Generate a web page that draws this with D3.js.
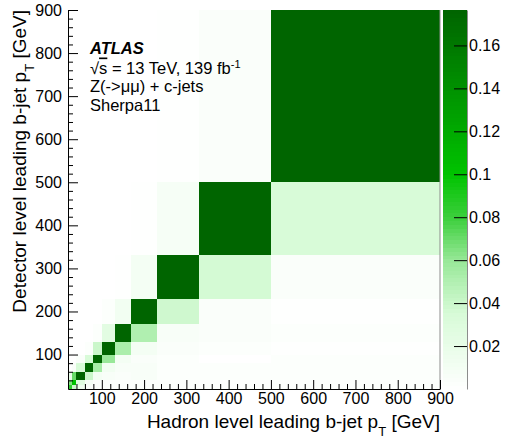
<!DOCTYPE html>
<html>
<head>
  <meta charset="utf-8">
  <title>Migration matrix</title>
  <script src="https://cdn.jsdelivr.net/npm/d3@7"></script>
  <style>
    body { margin: 0; background: #fff; }
    svg { display: block; font-family: "Liberation Sans", Arial, Helvetica, sans-serif; }
  </style>
</head>
<body>
<svg id="chart" width="510" height="439"></svg>

<script>
  // bin edges in GeV, same binning on both axes
  var binEdges = [20, 30, 40, 60, 80, 100, 130, 170, 230, 330, 500, 900];

  // one row per detector level bin (bottom to top), one value per hadron level bin (left to right)
  var det20  = [0.085, 0.04,  0.015, 0.004, 0.002, 0.002, 0.002, 0.002, 0.002, 0.001, 0.002];
  var det30  = [0.065, 0.1,   0.028, 0.008, 0.003, 0.002, 0.002, 0.002, 0.002, 0.001, 0.002];
  var det40  = [0.02,  0.07,  0.177, 0.04,  0.01,  0.006, 0.005, 0.006, 0.003, 0.002, 0.003];
  var det60  = [0,     0.004, 0.035, 0.177, 0.055, 0.012, 0.006, 0.006, 0.003, 0.002, 0.003];
  var det80  = [0,     0,     0.004, 0.035, 0.177, 0.06,  0.01,  0.005, 0.003, 0,     0.003];
  var det100 = [0,     0,     0,     0.003, 0.04,  0.177, 0.052, 0.01,  0.004, 0.003, 0.001];
  var det130 = [0,     0,     0,     0,     0.002, 0.025, 0.177, 0.05,  0.006, 0.004, 0.003];
  var det170 = [0,     0,     0,     0,     0,     0.002, 0.012, 0.177, 0.038, 0.004, 0.001];
  var det230 = [0,     0,     0,     0,     0,     0,     0.001, 0.009, 0.177, 0.036, 0.004];
  var det330 = [0,     0,     0,     0,     0,     0,     0,     0.001, 0.008, 0.177, 0.035];
  var det500 = [0,     0,     0,     0,     0,     0,     0,     0,     0.001, 0.005, 0.177];
  var matrix = [det20, det30, det40, det60, det80, det100, det130, det170, det230, det330, det500];

  var majorTicks = [100, 200, 300, 400, 500, 600, 700, 800, 900];
  var minorTicks = d3.range(40, 900, 20).filter(function(t) { return t % 100 !== 0; });
  var zTicks = [0.02, 0.04, 0.06, 0.08, 0.1, 0.12, 0.14, 0.16];
  var zMax = 0.1765;

  var svg = d3.select('#chart');

  var plotLeft = 68, plotRight = 440, plotTop = 10, plotBottom = 389;
  var barLeft = 443, barRight = 467;

  var x = d3.scaleLinear().domain([20, 900]).range([plotLeft, plotRight]);
  var y = d3.scaleLinear().domain([20, 900]).range([plotBottom, plotTop]);
  var z = d3.scaleLinear().domain([0, zMax]).range([plotBottom, plotTop]);

  // white -> light green -> bright green -> dark green
  var palette = d3.scaleLinear()
    .domain([0, 0.035, 0.06, 0.08, 0.1, zMax])
    .range(['#ffffff', '#d8fbd8', '#98e898', '#3ccf3c', '#00c300', '#006400'])
    .interpolate(d3.interpolateRgb)
    .clamp(true);

  var nContours = 99;
  function contourColor(v) {
    var k = Math.max(0, Math.min(nContours - 1, Math.floor(v / zMax * nContours)));
    return palette((k + 0.5) / nContours * zMax);
  }

  var cells = [];
  matrix.forEach(function(row, j) {
    row.forEach(function(v, i) {
      if (v > 0) {
        cells.push({x0: binEdges[i], x1: binEdges[i + 1], y0: binEdges[j], y1: binEdges[j + 1], v: v});
      }
    });
  });

  svg.append('g')
    .selectAll('rect')
    .data(cells)
    .enter()
    .append('rect')
    .attr('x', function(d) { return x(d.x0); })
    .attr('y', function(d) { return y(d.y1); })
    .attr('width', function(d) { return x(d.x1) - x(d.x0); })
    .attr('height', function(d) { return y(d.y0) - y(d.y1); })
    .attr('fill', function(d) { return contourColor(d.v); })
    .attr('shape-rendering', 'crispEdges');

  // colour bar
  var levels = d3.range(nContours);
  svg.append('g')
    .selectAll('rect')
    .data(levels)
    .enter()
    .append('rect')
    .attr('x', barLeft)
    .attr('width', barRight - barLeft)
    .attr('y', function(k) { return z((k + 1) / nContours * zMax); })
    .attr('height', function(k) { return z(k / nContours * zMax) - z((k + 1) / nContours * zMax) + 0.5; })
    .attr('fill', function(k) { return palette((k + 0.5) / nContours * zMax); })
    .attr('shape-rendering', 'crispEdges');

  // frame line on the right of the plot
  svg.append('line')
    .attr('x1', plotRight).attr('x2', plotRight)
    .attr('y1', plotTop).attr('y2', plotBottom)
    .attr('stroke', '#8c8c8c');

  function styleAxis(g) {
    g.attr('font-size', 16).attr('font-family', '"Liberation Sans", Arial, sans-serif');
  }

  // x axis
  svg.append('g')
    .attr('transform', 'translate(0,' + plotBottom + ')')
    .call(d3.axisBottom(x).tickValues(majorTicks).tickSizeInner(-9).tickSizeOuter(0).tickPadding(4))
    .call(styleAxis);
  svg.append('g')
    .attr('transform', 'translate(0,' + plotBottom + ')')
    .call(d3.axisBottom(x).tickValues(minorTicks).tickSizeInner(-5).tickSizeOuter(0).tickFormat(''))
    .call(function(g) { g.select('.domain').remove(); });

  // y axis
  svg.append('g')
    .attr('transform', 'translate(' + plotLeft + ',0)')
    .call(d3.axisLeft(y).tickValues(majorTicks).tickSizeInner(-10).tickSizeOuter(0).tickPadding(6))
    .call(styleAxis);
  svg.append('g')
    .attr('transform', 'translate(' + plotLeft + ',0)')
    .call(d3.axisLeft(y).tickValues(minorTicks).tickSizeInner(-5).tickSizeOuter(0).tickFormat(''))
    .call(function(g) { g.select('.domain').remove(); });

  // colour bar axis
  svg.append('g')
    .attr('transform', 'translate(' + barRight + ',0)')
    .call(d3.axisRight(z).tickValues(zTicks).tickSizeInner(-13).tickSizeOuter(0).tickPadding(2).tickFormat(d3.format('')))
    .call(styleAxis)
    .call(function(g) { g.select('.domain').attr('stroke', '#8c8c8c'); });

  // axis titles
  var xTitle = svg.append('text')
    .attr('x', plotRight)
    .attr('y', 428)
    .attr('text-anchor', 'end')
    .attr('font-size', 19);
  xTitle.append('tspan').text('Hadron level leading b-jet p');
  xTitle.append('tspan').attr('font-size', 13).attr('dy', 8).text('T');
  xTitle.append('tspan').attr('dy', -8).text(' [GeV]');

  var yTitle = svg.append('text')
    .attr('transform', 'translate(26,' + plotTop + ') rotate(-90)')
    .attr('text-anchor', 'end')
    .attr('font-size', 19);
  yTitle.append('tspan').text('Detector level leading b-jet p');
  yTitle.append('tspan').attr('font-size', 13).attr('dy', 8).text('T');
  yTitle.append('tspan').attr('dy', -8).text(' [GeV]');

  // ATLAS label
  var label = svg.append('g').attr('font-size', 16.5);
  label.append('text')
    .attr('x', 90).attr('y', 54)
    .attr('font-weight', 'bold').attr('font-style', 'italic')
    .text('ATLAS');
  var energy = label.append('text').attr('x', 90).attr('y', 73.5);
  energy.append('tspan').text('√');
  energy.append('tspan').style('text-decoration', 'overline').text('s');
  energy.append('tspan').text(' = 13 TeV, 139 fb');
  energy.append('tspan').attr('font-size', 11).attr('dy', -6).text('-1');
  label.append('text').attr('x', 90).attr('y', 92).text('Z(->μμ) + c-jets');
  label.append('text').attr('x', 90).attr('y', 110.5).text('Sherpa11');
</script>
</body>
</html>
